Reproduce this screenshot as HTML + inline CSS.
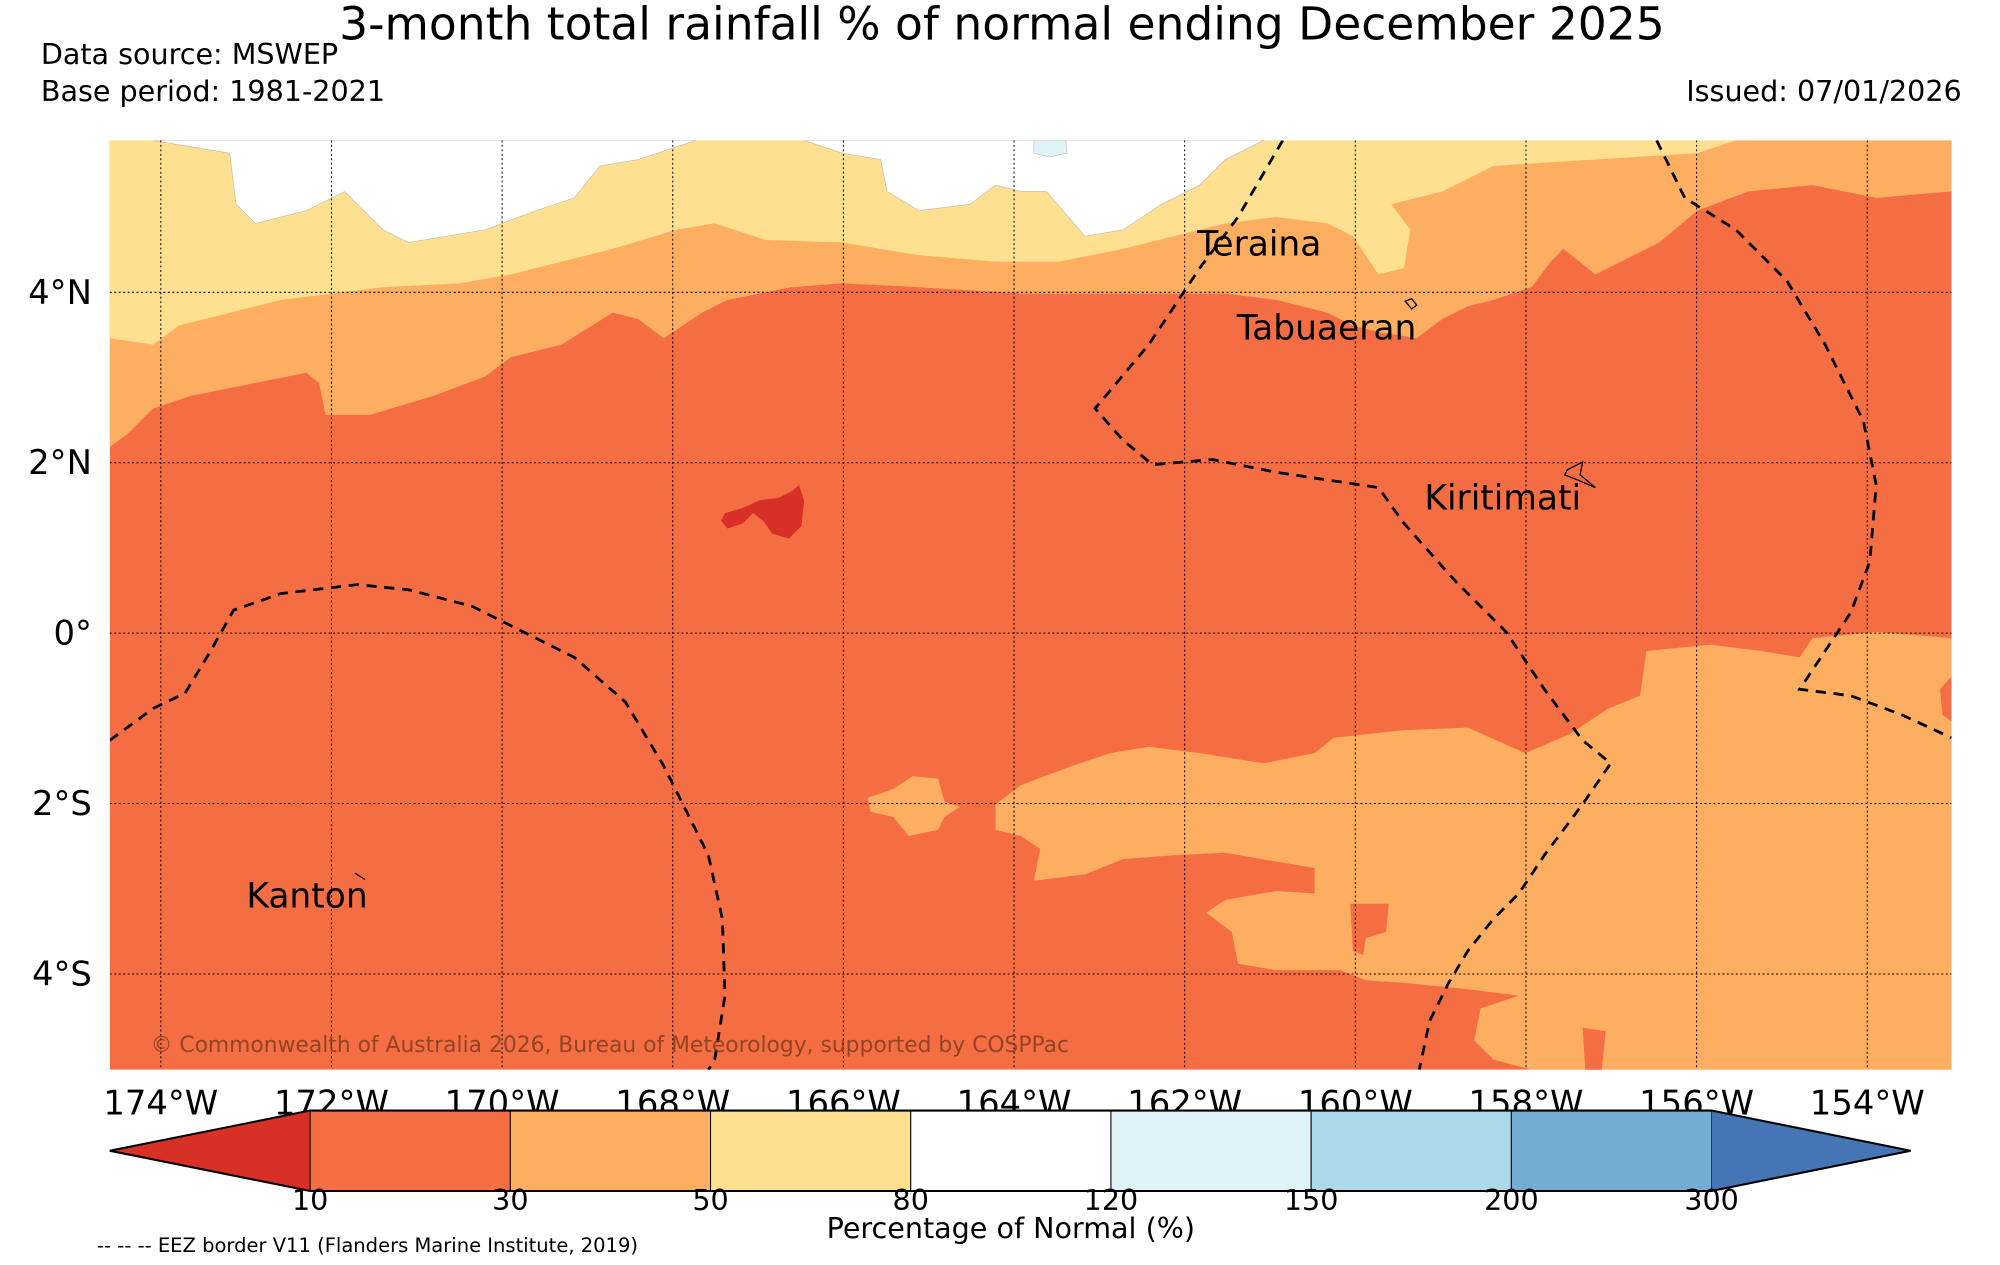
<!DOCTYPE html>
<html><head><meta charset="utf-8"><style>
html,body{margin:0;padding:0;background:#fff;}
svg{display:block;font-family:"DejaVu Sans","Liberation Sans",sans-serif;}
</style></head><body>
<svg id="fig" width="2000" height="1265" viewBox="0 0 1567 991" preserveAspectRatio="none" xmlns="http://www.w3.org/2000/svg">
<text x="785" y="31" text-anchor="middle" font-size="35.7">3-month total rainfall % of normal ending December 2025</text>
<text x="32" y="50" font-size="22.4">Data source: MSWEP</text>
<text x="32" y="79" font-size="22.4">Base period: 1981-2021</text>
<text x="1537" y="79" text-anchor="end" font-size="22.4">Issued: 07/01/2026</text>
<defs><clipPath id="mc"><rect x="86" y="110" width="1443" height="728"/></clipPath></defs>
<g clip-path="url(#mc)">
<rect x="86" y="110" width="1443" height="728" fill="#f46d43"/>
<path fill="#fdae61" d="M86,110 L1529,110 L1529,150 L1470,155 L1420,145 L1370,150 L1330,165 L1300,190 L1270,205 L1250,215 L1225,195 L1215,205 L1200,225 L1170,235 L1150,240 L1130,250 L1110,265 L1080,260 L1060,255 L1040,245 L1000,235 L960,230 L880,230 L800,230 L720,225 L660,222 L620,225 L570,235 L550,245 L520,265 L500,250 L480,245 L440,270 L400,280 L380,295 L340,310 L290,325 L255,325 L250,300 L240,292 L200,300 L150,310 L120,320 L100,340 L86,350 Z"/>
<path fill="#fee090" d="M86,110 L1360,110 L1330,120 L1250,125 L1170,130 L1130,150 L1090,160 L1105,180 L1100,210 L1080,215 L1070,200 L1060,185 L1040,175 L1000,170 L960,175 L920,185 L880,195 L830,205 L780,205 L720,200 L660,190 L600,188 L560,175 L530,180 L480,195 L440,205 L400,215 L360,222 L300,225 L260,230 L220,235 L180,245 L140,255 L120,270 L86,265 Z"/>
<path fill="#ffffff" stroke="#bbb" stroke-width="0.5" d="M120,110 L180,120 L185,160 L200,175 L240,165 L270,150 L300,180 L320,190 L380,180 L420,165 L450,155 L470,130 L500,125 L530,115 L545,110 Z"/>
<path fill="#ffffff" stroke="#bbb" stroke-width="0.5" d="M630,110 L660,120 L690,125 L695,150 L720,165 L760,160 L780,145 L800,150 L820,150 L850,185 L880,180 L910,160 L940,145 L960,125 L990,110 Z"/>
<path fill="#e0f3f8" stroke="#bbb" stroke-width="0.5" d="M810,110 L835,110 L836,120 L822,123 L810,120 Z"/>
<path fill="#fdae61" d="M1529,500 L1470,495 L1420,500 L1410,515 L1380,510 L1340,505 L1290,510 L1285,545 L1260,555 L1230,575 L1195,590 L1150,570 L1100,572 L1045,578 L1030,590 L990,598 L940,590 L900,585 L870,590 L840,600 L800,615 L780,630 L780,650 L800,655 L815,665 L810,690 L850,685 L880,673 L920,670 L960,668 L1000,675 L1030,680 L1030,700 L1000,698 L960,705 L945,715 L965,730 L970,755 L1000,760 L1050,760 L1070,768 L1100,770 L1150,775 L1190,780 L1160,790 L1155,815 L1170,830 L1200,838 L1529,838 Z"/>
<path fill="#fdae61" d="M680,625 L700,618 L715,608 L735,610 L740,628 L752,632 L740,640 L735,650 L712,655 L700,640 L682,636 Z"/>
<path fill="#f46d43" d="M1058,708 L1088,708 L1086,730 L1070,735 L1068,748 L1060,745 Z"/>
<path fill="#f46d43" d="M1240,805 L1258,808 L1255,838 L1242,838 Z"/>
<path fill="#f46d43" d="M1529,530 L1520,540 L1522,560 L1529,565 Z"/>
<path fill="#d73027" d="M568,402 L582,398 L595,392 L610,390 L620,385 L626,380 L630,392 L628,412 L618,422 L605,418 L598,408 L590,402 L582,410 L570,414 L565,408 Z"/>
<g id="grid" stroke="#000" stroke-width="0.8" stroke-dasharray="1.5,2"></g>
<g fill="none" stroke="#000" stroke-width="2.2" stroke-dasharray="8,6">
<path d="M1005,110 L970,170 L940,210 L900,270 L858,320 L880,345 L903,364 L950,360 L1000,370 L1080,382 L1100,410 L1140,455 L1180,495 L1210,540 L1240,580 L1262,598 L1240,630 L1210,670 L1190,700 L1170,720 L1150,745 L1135,770 L1120,800 L1112,838"/>
<path d="M1298,110 L1320,155 L1360,180 L1400,220 L1430,270 L1460,330 L1470,380 L1465,440 L1450,480 L1430,510 L1410,540 L1450,545 L1490,560 L1529,578"/>
<path d="M86,580 L120,555 L145,543 L165,510 L183,478 L220,465 L280,458 L320,462 L370,475 L410,495 L450,515 L490,550 L520,600 L540,640 L555,670 L566,720 L568,780 L560,830 L555,838"/>
</g>
<g fill="none" stroke="#000" stroke-width="1">
<path d="M1101,236 L1106,234 L1110,239 L1106,242 Z"/>
<path d="M1228,368 L1240,362 L1238,372 L1250,382 L1236,376 L1226,372 Z"/>
<path d="M278,684 L286,689"/>
</g>
<text x="938" y="200" font-size="27">Teraina</text>
<text x="969" y="266" font-size="27">Tabuaeran</text>
<text x="1116" y="399" font-size="27">Kiritimati</text>
<text x="193" y="711" font-size="27">Kanton</text>
<text x="118" y="824" font-size="17.1" fill="#7a3a1e" fill-opacity="0.8">© Commonwealth of Australia 2026, Bureau of Meteorology, supported by COSPPac</text>
</g>
<g id="lonlabels"></g>
<g id="latlabels"></g>
<g id="cbar"></g>
<text x="792" y="970" text-anchor="middle" font-size="22.4">Percentage of Normal (%)</text>
<text x="76" y="981" font-size="15.3">-- -- -- EEZ border V11 (Flanders Marine Institute, 2019)</text>
</svg>
<script>
const lonTicks = [174,172,170,168,166,164,162,160,158,156,154];
const latTicks = [4,2,0,-2,-4];
const cbLevels = [10,30,50,80,120,150,200,300];
const cbColors = ["#d73027","#f46d43","#fdae61","#fee090","#ffffff","#e0f3f8","#abd9e9","#74add1","#4575b4"];
const NS="http://www.w3.org/2000/svg";
function xLon(lon){return 126+(174-lon)*66.85;}
function yLat(lat){return 496-lat*66.75;}
function mk(tag,attrs,parent){const e=document.createElementNS(NS,tag);for(const k in attrs)e.setAttribute(k,attrs[k]);parent.appendChild(e);return e;}
const grid=document.getElementById('grid');
lonTicks.forEach(l=>{const e=mk('line',{x1:xLon(l),x2:xLon(l),y1:110,y2:838},grid);

});
latTicks.forEach(l=>{const e=mk('line',{x1:86,x2:1529,y1:yLat(l),y2:yLat(l)},grid);

});
const lg=document.getElementById('lonlabels');
lonTicks.forEach(l=>{const t=mk('text',{x:xLon(l),y:873,'text-anchor':'middle','font-size':26.5},lg);t.textContent=l+'°W';

});
const la=document.getElementById('latlabels');
latTicks.forEach(l=>{const t=mk('text',{x:72,y:yLat(l)+9,'text-anchor':'end','font-size':26.5},la);
t.textContent=l===0?'0°':(Math.abs(l)+'°'+(l>0?'N':'S'));

});
const cb=document.getElementById('cbar');
const x0=243,x1=1341,y0=870,y1=933,ym=(y0+y1)/2;
const n=cbLevels.length-1, w=(x1-x0)/n;
function xl(i){return x0+i*w;}
let p=mk('polygon',{points:`86,${ym} ${x0},${y0} ${x0},${y1}`,fill:cbColors[0]},cb);


for(let i=0;i<n;i++){const r=mk('rect',{x:xl(i),y:y0,width:w,height:y1-y0,fill:cbColors[i+1],stroke:'#000','stroke-width':0.8},cb);

}
p=mk('polygon',{points:`1497,${ym} ${x1},${y0} ${x1},${y1}`,fill:cbColors[cbColors.length-1]},cb);


p=mk('polygon',{points:`86,${ym} ${x0},${y0} ${x1},${y0} 1497,${ym} ${x1},${y1} ${x0},${y1}`,fill:'none',stroke:'#000','stroke-width':1.6},cb);


cbLevels.forEach((v,i)=>{const t=mk('text',{x:xl(i),y:948,'text-anchor':'middle','font-size':22.4},cb);t.textContent=v;

});
</script>
</body></html>
